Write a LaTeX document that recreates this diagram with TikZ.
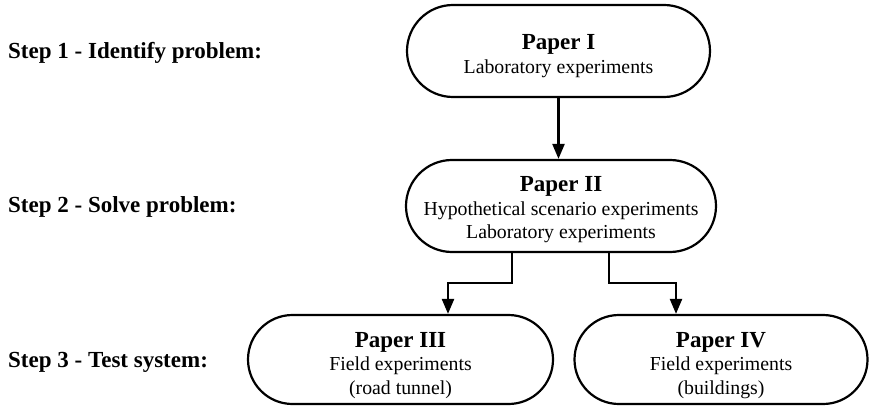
\documentclass[tikz,border=0pt]{standalone}
\usepackage{fontspec}
\setmainfont{Liberation Serif}
\usetikzlibrary{arrows.meta}
\begin{document}
\begin{tikzpicture}[x=1pt,y=-1pt,
  paperbox/.style={draw, line width=2.2pt, inner sep=0pt},
  papertext/.style={inner sep=0pt, align=center,
    font=\fontsize{19.8}{23.5}\selectfont},
  steplabel/.style={anchor=west, inner sep=0pt, font=\fontsize{23}{27}\selectfont\bfseries},
  arr/.style={line width=2.3pt, line join=miter, -{Triangle[length=15pt,width=12pt]}}]
\useasboundingbox (0,0) rectangle (869,406);

\node[steplabel] (st1) at (8,53) {Step 1 - Identify problem:};
\node[steplabel] (st2) at (8,207) {Step 2 - Solve problem:};
\node[steplabel] (st3) at (8,362) {Step 3 - Test system:};

\newcommand\ptitle[1]{{\fontsize{23}{23.5}\selectfont\bfseries #1}}
\node[paperbox, minimum width=303pt, minimum height=92pt, rounded corners=46pt] (p1) at (558.5,51) {};
\node[paperbox, minimum width=310pt, minimum height=92pt, rounded corners=46pt] (p2) at (561,206) {};
\node[paperbox, minimum width=305pt, minimum height=89pt, rounded corners=44.5pt] (p3) at (400.5,359.5) {};
\node[paperbox, minimum width=293pt, minimum height=89pt, rounded corners=44.5pt] (p4) at (721,359.5) {};

\node[papertext] (p1t) at ([yshift=-5pt]p1.center) {\ptitle{Paper I}\\Laboratory experiments};
\node[papertext] (p2t) at ([yshift=-4pt]p2.center) {\ptitle{Paper II}\\Hypothetical scenario experiments\\Laboratory experiments};
\node[papertext] (p3t) at ([yshift=-6pt]p3.center) {\ptitle{Paper III}\\Field experiments\\(road tunnel)};
\node[papertext] (p4t) at ([yshift=-6pt]p4.center) {\ptitle{Paper IV}\\Field experiments\\(buildings)};

\coordinate (s1) at (512,283);
\coordinate (t1) at (448,283);
\coordinate (s2) at (609,283);
\coordinate (t2) at (676,283);

\draw[arr] (p1.south) -- (p1.south |- p2.north);
\draw[arr] (p2.south -| s1) -- (s1) -- (t1) -- (t1 |- p3.north);
\draw[arr] (p2.south -| s2) -- (s2) -- (t2) -- (t2 |- p4.north);
\end{tikzpicture}
\end{document}
